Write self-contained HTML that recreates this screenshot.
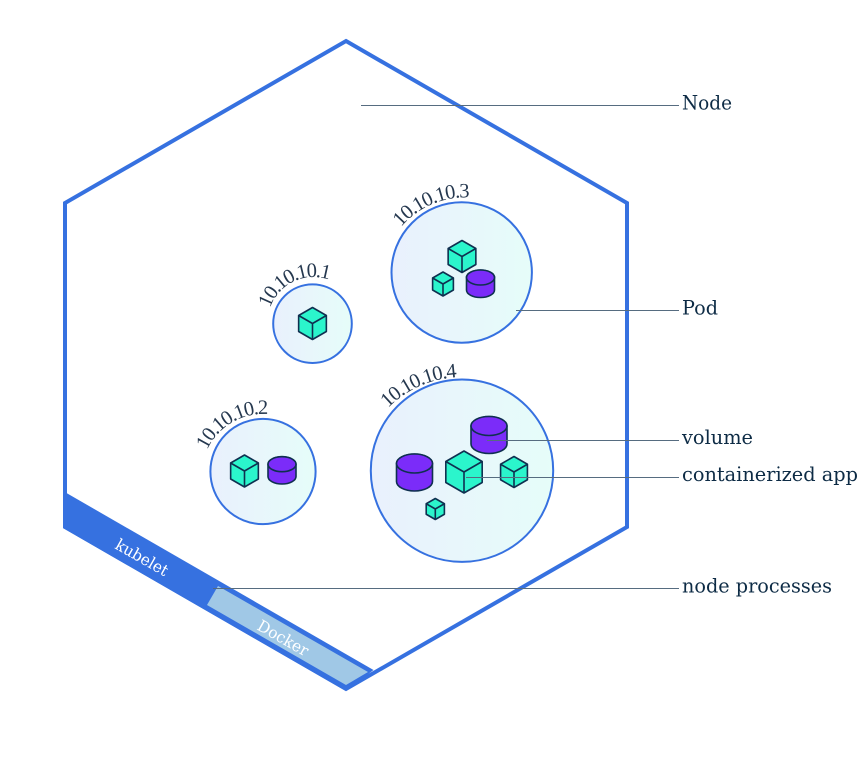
<!DOCTYPE html>
<html>
<head>
<meta charset="utf-8">
<style>
html,body{margin:0;padding:0;background:#fff;width:864px;height:764px;overflow:hidden}
svg{display:block}
.l{font-family:"DejaVu Serif","Liberation Serif",serif;font-size:20px;fill:#0d2b45}
.ip{font-family:"Liberation Serif",serif;font-size:20.5px;letter-spacing:-1.1px;fill:#25384f}
.b{font-family:"DejaVu Serif","Liberation Serif",serif;font-size:16px;fill:#fff}
.v{fill:#7b2cf9;stroke:#0f3050;stroke-width:1.6}
.p{fill:url(#g);stroke:#3671e0;stroke-width:2}
.n{vector-effect:non-scaling-stroke;stroke:#0f3050;stroke-width:1.6px;stroke-linejoin:round}
</style>
</head>
<body>
<svg width="864" height="764" viewBox="0 0 864 764" xmlns="http://www.w3.org/2000/svg">
<defs>
<linearGradient id="g" x1="0" x2="1" y1="0" y2="0"><stop offset="0" stop-color="#e9f0fd"/><stop offset="1" stop-color="#e6fdf9"/></linearGradient>
<g id="cube">
<polygon class="n" points="0,-1 .866,-.5 .866,.5 0,1 -.866,.5 -.866,-.5" fill="#2bf5cc"/>
<path class="n" d="M-.866,-.5 L0,0 L.866,-.5 M0,0 L0,1" fill="none"/>
</g>
<path id="a1" d="M270 308 A46 46 0 0 1 338 284"/>
<path id="a2" d="M207 450 A62 62 0 0 1 275 415"/>
<path id="a3" d="M401 227 A85 85 0 0 1 476 198"/>
<path id="a4" d="M388 408 A105 105 0 0 1 463 377"/>
</defs>

<polygon points="346,41 627,203 627,527 346,689 65,527 65,203" fill="#fff" stroke="#3671e0" stroke-width="4" stroke-linejoin="miter"/>
<polygon points="63,491 373.5,670 346,691 63,528" fill="#3671e0"/>
<polygon points="218,586 368,672 346,685 207,605" fill="#a0c8e6"/>

<circle class="p" cx="312.5" cy="323.7" r="39.3"/>
<circle class="p" cx="263" cy="471.5" r="52.6"/>
<circle class="p" cx="461.7" cy="272.5" r="70.2"/>
<circle class="p" cx="462" cy="470.7" r="91.2"/>

<use href="#cube" transform="translate(312.5 323.5) scale(16)"/>
<use href="#cube" transform="translate(244.5 471) scale(16)"/>
<use href="#cube" transform="translate(462 256.5) scale(16)"/>
<use href="#cube" transform="translate(443 284) scale(12)"/>
<use href="#cube" transform="translate(464 472) scale(21)"/>
<use href="#cube" transform="translate(514 472) scale(15.5)"/>
<use href="#cube" transform="translate(435.3 509) scale(10.5)"/>

<path class="v" d="M268 464.2 A14 7.5 0 0 1 296 464.2 V476.5 A14 7.5 0 0 1 268 476.5 Z"/>
<ellipse class="v" cx="282" cy="464.2" rx="14" ry="7.5"/>
<path class="v" d="M466.5 277.5 A14 7.5 0 0 1 494.5 277.5 V290 A14 7.5 0 0 1 466.5 290 Z"/>
<ellipse class="v" cx="480.5" cy="277.5" rx="14" ry="7.5"/>
<path class="v" d="M471 426 A18 9.5 0 0 1 507 426 V444 A18 9.5 0 0 1 471 444 Z"/>
<ellipse class="v" cx="489" cy="426" rx="18" ry="9.5"/>
<path class="v" d="M396.5 463.5 A18 9.5 0 0 1 432.5 463.5 V481.5 A18 9.5 0 0 1 396.5 481.5 Z"/>
<ellipse class="v" cx="414.5" cy="463.5" rx="18" ry="9.5"/>

<g stroke="#566c80" stroke-width="1" fill="none">
<path d="M361 105.5H679"/>
<path d="M516 310.5H679"/>
<path d="M487 440.5H679"/>
<path d="M466 477.5H679"/>
<path d="M213 588.5H679"/>
</g>

<text class="l" x="682" y="109.5" textLength="50" lengthAdjust="spacingAndGlyphs">Node</text>
<text class="l" x="682" y="314.5" textLength="36" lengthAdjust="spacingAndGlyphs">Pod</text>
<text class="l" x="682" y="444" textLength="71" lengthAdjust="spacingAndGlyphs">volume</text>
<text class="l" x="682" y="481" textLength="176" lengthAdjust="spacingAndGlyphs">containerized app</text>
<text class="l" x="682" y="592.5" textLength="150" lengthAdjust="spacingAndGlyphs">node processes</text>

<text class="ip" style="letter-spacing:-1.6px"><textPath href="#a1">10.10.10.1</textPath></text>
<text class="ip" style="letter-spacing:-1.3px"><textPath href="#a2">10.10.10.2</textPath></text>
<text class="ip"><textPath href="#a3">10.10.10.3</textPath></text>
<text class="ip"><textPath href="#a4">10.10.10.4</textPath></text>

<text class="b" transform="translate(114 548) rotate(29.5)" textLength="58" lengthAdjust="spacingAndGlyphs">kubelet</text>
<text class="b" transform="translate(256 629) rotate(29.5)" textLength="56" lengthAdjust="spacingAndGlyphs">Docker</text>
</svg>
</body>
</html>
